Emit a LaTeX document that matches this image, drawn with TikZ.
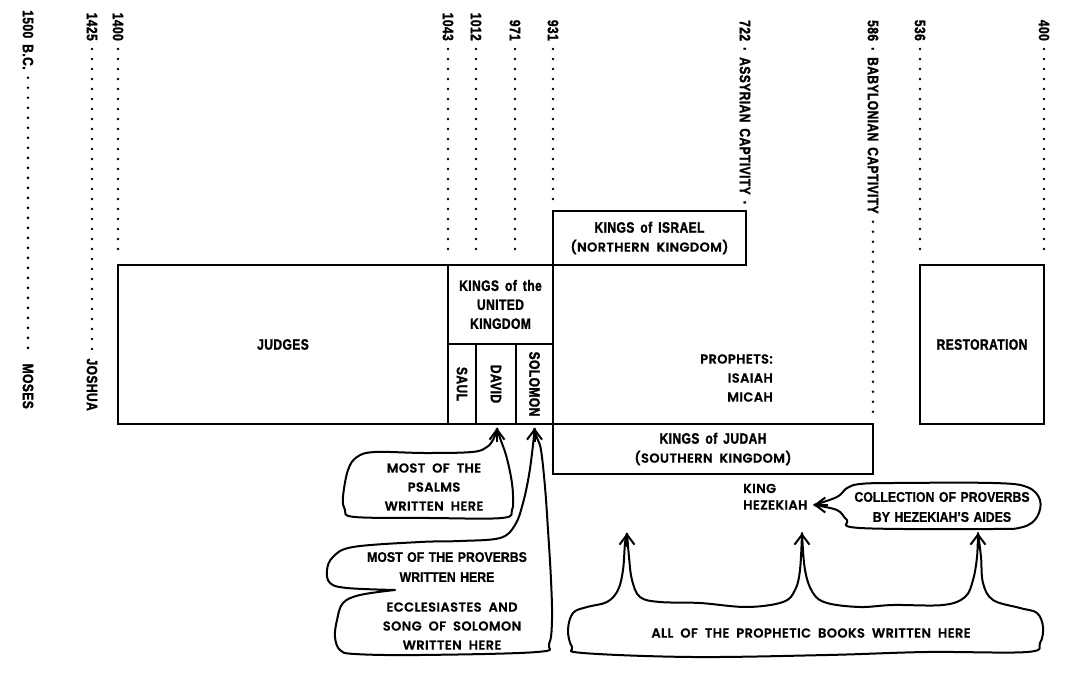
\documentclass[tikz,border=0pt]{standalone}
\usepackage{fontspec}
\setmainfont{Liberation Sans}
\newfontfamily\condfont[FakeStretch=0.8,FakeBold=1.6,WordSpace=1.6,LetterSpace=3]{Liberation Sans Bold}
\newfontfamily\narrowfont[FakeStretch=0.88,FakeBold=0.8,WordSpace=1.3]{Liberation Sans Bold}
\newfontfamily\geofont[LetterSpace=3,WordSpace=2,FakeBold=0.6]{Poppins SemiBold}
\newcommand\geosize{\geofont\mdseries\fontsize{13}{19}\selectfont}
\usetikzlibrary{positioning,calc,arrows.meta}
\tikzstyle{period}=[draw,line width=2.8pt,outer sep=0pt,inner sep=0pt,align=center,font=\condfont\fontsize{15}{19}\selectfont]

\begin{document}
\begin{tikzpicture}[
    x=1pt,y=-1pt,
    datelbl/.style={
        rotate=-90,
        inner sep=0pt,
        font=\condfont\fontsize{15}{19}\selectfont
    },
    dots/.style={
        line width=2.8pt,
        line cap=round,
        dash pattern=on 0pt off 10pt,
        shorten <=8pt,
        shorten >=7pt
    },
    geo/.style={
        inner sep=2pt,
        align=center,
        font=\geosize
    },
    narrow/.style={
        inner sep=2pt,
        align=center,
        font=\narrowfont\fontsize{14}{20}\selectfont
    },
    bubble/.style={
        line width=2pt,
        line join=round
    },
    tip/.style={
        -{Straight Barb[length=10pt,width=15pt]},
        line width=2pt
    }
    ]
    \useasboundingbox (0,0) rectangle (1074,677);
    \node[period,minimum width=330pt,minimum height=159pt,anchor=north west] 
        (judges) at (118,265) {JUDGES};
    \node[period,minimum width=105pt,minimum height=79pt,anchor=north west] 
        (ukhead) at (judges.north east) {KINGS of the\\UNITED\\KINGDOM};
    \node[period,rotate=-90,minimum width=80pt,minimum height=28pt,anchor=south west] 
        (saul) at (ukhead.south west) {SAUL};
    \node[period,rotate=-90,minimum width=80pt,minimum height=40pt,anchor=south west] 
        (david) at (saul.north west) {DAVID};
    \node[period,rotate=-90,minimum width=80pt,minimum height=37pt,anchor=south west] 
        (solomon) at (david.north west) {SOLOMON};
    \node[period,minimum width=193pt,minimum height=54pt,anchor=south west] 
        (israel) at (ukhead.north east) {KINGS of ISRAEL\\{\geosize(NORTHERN KINGDOM)}};
    \node[period,minimum width=320pt,minimum height=50pt,anchor=north west] 
        (judah) at (solomon.north east) {KINGS of JUDAH\\{\geosize(SOUTHERN KINGDOM)}};
    \node[period,minimum width=124pt,minimum height=159pt,anchor=north west] 
        (restoration) at (920,265) {RESTORATION};

    \node[datelbl,anchor=west] (d1500) at (28,10) {1500 B.C.};
    \node[datelbl,anchor=east] (moses) at (28,409) {MOSES};
    \draw[dots] (d1500.east) -- (moses.west);
    \node[datelbl,anchor=east] (d1425) at (92,41) {1425};
    \node[datelbl,anchor=east] (joshua) at (92,411) {JOSHUA};
    \draw[dots] (d1425.east) -- (joshua.west);
    \foreach \yr/\xx/\tgt in {1400/118/judges,1043/448/judges,1012/476/ukhead,971/515/ukhead,931/553/israel,536/920/restoration,400/1044/restoration}{
        \node[datelbl,anchor=east] (d\yr) at (\xx,41) {\yr};
        \draw[dots] (d\yr.east) -- (d\yr.east |- \tgt.north);
    }
    \node[datelbl,anchor=west] (d722) at (745,20) {722 · ASSYRIAN CAPTIVITY ·};
    \node[datelbl,anchor=west] (d586) at (873,20) {586 · BABYLONIAN CAPTIVITY};
    \draw[dots] (d586.east) -- (judah.north east);

    \node[geo,align=right,anchor=east] 
        (prophets) at (775,378) {PROPHETS:\\ISAIAH\\MICAH};
    \node[geo,anchor=west] 
        (hezekiah) at (741,505) {HEZEKIAH};
    \node[geo,above=3pt of hezekiah.north west,anchor=south west] 
        (king) {KING};

    \node[geo] (psalms) at (434,487) {MOST OF THE\\PSALMS\\WRITTEN HERE};
    \node[narrow] (proverbs) at (447,567) {MOST OF THE PROVERBS\\WRITTEN HERE};
    \node[geo] (eccles) at (452,626) {ECCLESIASTES AND\\SONG OF SOLOMON\\WRITTEN HERE};
    \node[narrow] (aides) at (942,507) {COLLECTION OF PROVERBS\\BY HEZEKIAH’S AIDES};
    \node[geo] (prophetic) at (811,633) {ALL OF THE PROPHETIC BOOKS WRITTEN HERE};

    \coordinate (psalmtip) at ($(david.east)+(1,4)$);
    \coordinate (provtip) at ($(solomon.east)+(0,4)$);
    \coordinate (heztip) at ($(hezekiah.east)+(4,0)$);
    \coordinate (pt1) at (627,533);
    \coordinate (pt2) at (802,533);
    \coordinate (pt3) at (978,533);

    \draw[bubble] plot[smooth,tension=0.6] coordinates {(psalmtip) (494,438) (487,447) (472,452) (425,453) (375,452) (357,457) (348,470) (343,497) (345,510) (355,517) (430,518) (502,518) (512,510) (513,495) (511,477) (506,455) (500,438) (psalmtip)};
    \draw[tip] ($(psalmtip)+(0,14)$) -- (psalmtip);

    \draw[bubble] plot[smooth,tension=0.6] coordinates {(provtip) (533,445) (529,475) (523,503) (515,525) (500,538) (460,541) (420,542) (353,547) (333,557) (327,570) (330,583) (347,588) (395,590)}
        -- plot[smooth,tension=0.6] coordinates {(395,590) (360,595) (343,603) (337,620) (335,637) (340,650) (355,654) (420,655) (537,652) (549,644) (552,620) (551,580) (548,530) (545,487) (541,450) (537,438) (provtip)};
    \draw[tip] ($(provtip)+(0,14)$) -- (provtip);

    \draw[bubble] plot[smooth,tension=0.6] coordinates {(heztip) (837,497) (847,488) (860,484) (893,483) (993,483) (1027,487) (1040,500) (1037,517) (1023,527) (993,529) (860,528) (847,520) (837,510) (heztip)};
    \draw[tip] ($(heztip)+(14,0)$) -- (heztip);

    \draw[bubble] plot[smooth,tension=0.6] coordinates {(pt1) (625,543) (623,570) (618,590) (607,602) (587,607) (573,613) (568,630) (572,647) (583,653) (693,657) (827,655) (927,652) (1027,652) (1040,643) (1043,627) (1037,613) (1020,608) (993,600) (983,583) (981,557) (pt3)}
        -- plot[smooth,tension=0.6] coordinates {(pt3) (977,557) (973,580) (965,597) (943,605) (893,605) (860,607) (827,603) (813,593) (805,570) (pt2)}
        -- plot[smooth,tension=0.6] coordinates {(pt2) (800,570) (795,590) (783,602) (747,607) (700,603) (660,602) (640,597) (632,580) (629,557) (pt1)};
    \foreach \t in {pt1,pt2,pt3}
        \draw[tip] ($(\t)+(0,14)$) -- (\t);
\end{tikzpicture}
\end{document}
